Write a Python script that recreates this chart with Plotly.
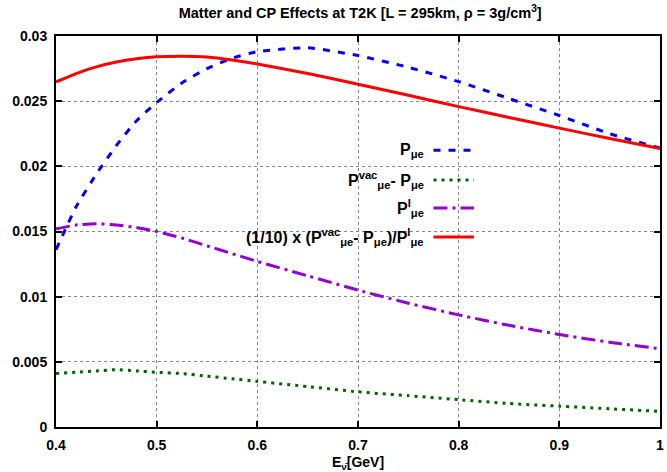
import plotly.graph_objects as go

# Antineutrino energy grid (GeV)
energy = [0.40, 0.42, 0.44, 0.46, 0.48, 0.50, 0.525, 0.55, 0.575, 0.60,
          0.65, 0.70, 0.75, 0.80, 0.85, 0.90, 0.95, 1.00]

# Oscillation probability P_mue
p_mue = [0.0136, 0.0169, 0.0194, 0.0216, 0.0235, 0.0249, 0.0264, 0.0275, 0.0283, 0.0288,
         0.0291, 0.0285, 0.0276, 0.0265, 0.0252, 0.0239, 0.0225, 0.0214]

# Matter effect: P_mue^vac - P_mue
p_vac_minus = [0.0041, 0.0042, 0.0043, 0.0044, 0.0043, 0.0042, 0.0041, 0.0039, 0.0037, 0.0035,
               0.0031, 0.0027, 0.0024, 0.0021, 0.0018, 0.0016, 0.0014, 0.0012]

# CP-violating term P_mue^I
p_interf = [0.0152, 0.0155, 0.0156, 0.0155, 0.0153, 0.0150, 0.0145, 0.0139, 0.0133, 0.0127,
            0.0116, 0.0105, 0.0095, 0.0086, 0.0078, 0.0071, 0.0065, 0.0060]

# (1/10) x (P_mue^vac - P_mue) / P_mue^I
ratio_tenth = [0.02648, 0.02712, 0.02763, 0.02800, 0.02825, 0.02840, 0.02845, 0.02838, 0.02815,
               0.02785, 0.02712, 0.02630, 0.02545, 0.02458, 0.02375, 0.02293, 0.02213, 0.02136]

x_ticks = [0.4, 0.5, 0.6, 0.7, 0.8, 0.9, 1.0]
x_tick_text = ["0.4", "0.5", "0.6", "0.7", "0.8", "0.9", "1"]
y_ticks = [0, 0.005, 0.01, 0.015, 0.02, 0.025, 0.03]
y_tick_text = ["0", "0.005", "0.01", "0.015", "0.02", "0.025", "0.03"]

FONT = "Liberation Sans"
BLUE = "#0000ff"
GREEN = "#006400"
PURPLE = "#9400d3"
RED = "#ff0000"

series = [
    ("P<sub>μe</sub>", p_mue, BLUE, "7px,8px"),
    ("P<sup>vac</sup><sub>μe</sub>- P<sub>μe</sub>", p_vac_minus, GREEN, "3px,5px"),
    ("P<sup>I</sup><sub>μe</sub>", p_interf, PURPLE, "14px,5px,3px,5px"),
    ("(1/10) x (P<sup>vac</sup><sub>μe</sub>- P<sub>μe</sub>)/P<sup>I</sup><sub>μe</sub>", ratio_tenth, RED, "solid"),
]

fig = go.Figure()
for name, vals, color, dash in series:
    fig.add_trace(go.Scatter(
        x=energy, y=vals, mode="lines", name=name,
        line=dict(color=color, width=3, dash=dash, shape="spline", smoothing=0.5),
        showlegend=False,
    ))

# Key box: white panel over the grid, entries with text right-aligned and sample line after
key_x0, key_x1 = 0.288, 0.709
key_y0, key_y1 = 0.448, 0.749
fig.add_shape(type="rect", xref="paper", yref="paper",
              x0=key_x0, x1=key_x1, y0=key_y0, y1=key_y1,
              fillcolor="white", line=dict(width=0), layer="between")

row_y = [0.708, 0.632, 0.560, 0.486]
for (name, vals, color, dash), yy in zip(series, row_y):
    fig.add_annotation(xref="paper", yref="paper", x=0.613, y=yy,
                       text=name, showarrow=False, xanchor="right", yanchor="middle",
                       font=dict(family=FONT, size=16, color="black", weight="bold"))
    fig.add_shape(type="line", xref="paper", yref="paper",
                  x0=0.625, x1=0.692, y0=yy, y1=yy,
                  line=dict(color=color, width=3, dash=dash))

axis_common = dict(
    showline=True, linecolor="black", linewidth=2, mirror="ticks",
    ticks="inside", ticklen=6, tickwidth=2, tickcolor="black",
    showgrid=True, gridcolor="#888888", gridwidth=1, griddash="dot",
    zeroline=False,
    tickfont=dict(family=FONT, size=14, color="black", weight="bold"),
)

fig.update_xaxes(range=[0.4, 1.0], tickvals=x_ticks, ticktext=x_tick_text,
                 ticklabelstandoff=4,
                 title=dict(text="E<sub>ν̄</sub>[GeV]", standoff=6,
                            font=dict(family=FONT, size=14, color="black", weight="bold")),
                 **axis_common)
fig.update_yaxes(range=[0, 0.03], tickvals=y_ticks, ticktext=y_tick_text,
                 ticklabelstandoff=4, **axis_common)

fig.update_layout(
    width=667, height=472,
    margin=dict(l=56, r=3, t=36, b=45),
    paper_bgcolor="white", plot_bgcolor="white",
    title=dict(text="Matter and CP Effects at T2K [L = 295km, ρ = 3g/cm<sup>3</sup>]",
               x=0.54, xanchor="center", y=0.972, yanchor="middle",
               font=dict(family=FONT, size=14.5, color="black", weight="bold")),
)

fig.write_html("out.html")
